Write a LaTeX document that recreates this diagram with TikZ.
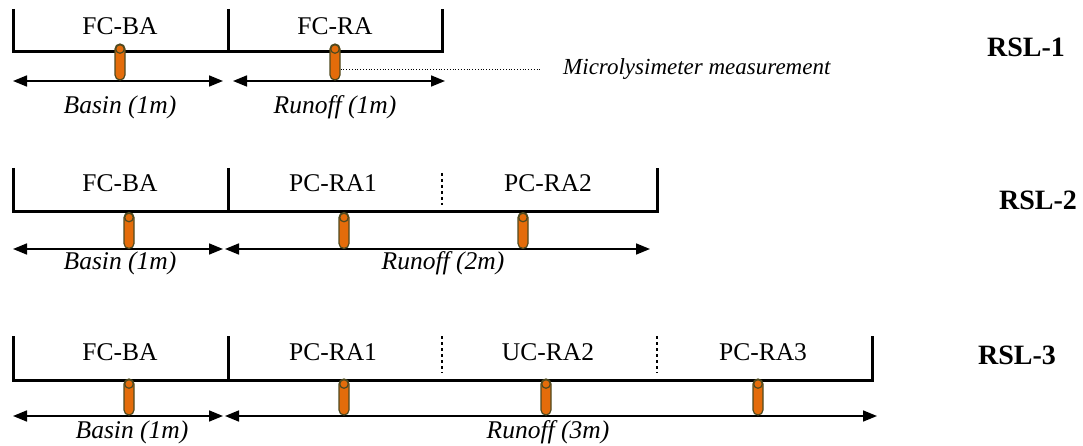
\documentclass[tikz,border=0pt]{standalone}
\usepackage{fontspec}
\setmainfont{Liberation Serif}
\usetikzlibrary{arrows.meta}
\definecolor{tubefill}{HTML}{E46C0A}
\definecolor{tubeedge}{HTML}{4F4A20}

\tikzset{
  wall/.style={line width=3pt, line join=miter},
  divider/.style={line width=1.4pt, dash pattern=on 3pt off 3pt},
  span/.style={line width=1.6pt, {Triangle[length=14pt,width=11pt]}-{Triangle[length=14pt,width=11pt]}},
  zone/.style={font=\fontsize{25.5}{30}\selectfont, inner sep=0pt},
  len/.style={font=\itshape\fontsize{25.5}{30}\selectfont, inner sep=0pt},
  rsl/.style={font=\bfseries\fontsize{28}{33}\selectfont, inner sep=0pt},
  note/.style={font=\itshape\fontsize{23}{27}\selectfont, inner sep=0pt, anchor=west},
  tube/.style={draw=tubeedge, fill=tubefill, line width=1.2pt, rounded corners=5pt,
    minimum width=10pt, minimum height=36pt, inner sep=0pt,
    path picture={\draw[tubeedge, line width=1.2pt]
      ([yshift=-5pt]path picture bounding box.north) circle (4.3pt);}},
  leader/.style={line width=0.8pt, dotted},
}

\begin{document}
\begin{tikzpicture}[x=1pt, y=-1pt]
\useasboundingbox (0,0) rectangle (1083,446);

% ---------------- RSL-1 ----------------
\draw[wall] (13,9) -- (13,52) -- (442,52) -- (442,9);
\draw[wall] (228,9) -- (228,52);
\node[zone] (r1a) at (120,26) {FC-BA};
\node[zone] (r1b) at (335,26) {FC-RA};
\coordinate (r1s0) at (13,81);
\coordinate (r1s1) at (223,81);
\coordinate (r1s2) at (233,81);
\coordinate (r1s3) at (445,81);
\draw[span] (r1s0) -- (r1s1);
\draw[span] (r1s2) -- (r1s3);
\node[tube] (r1t1) at (120,62) {};
\node[tube] (r1t2) at (335,62) {};
\node[len] (r1l1) at (120,107) {Basin (1m)};
\node[len] (r1l2) at (335,107) {Runoff (1m)};
\node[note] (micro) at (563,69) {Microlysimeter measurement};
\coordinate (microend) at (540,69);
\draw[leader] (r1t2.east |- microend) -- (microend);
\node[rsl] (rsl1) at (1026,47) {RSL-1};

% ---------------- RSL-2 ----------------
\draw[wall] (13,168) -- (13,212) -- (657,212) -- (657,168);
\draw[wall] (228,168) -- (228,212);
\draw[divider] (442,173) -- (442,205);
\node[zone] (r2a) at (120,183) {FC-BA};
\node[zone] (r2b) at (333,183) {PC-RA1};
\node[zone] (r2c) at (548,183) {PC-RA2};
\coordinate (r2s0) at (13,249);
\coordinate (r2s1) at (223,249);
\coordinate (r2s2) at (225,249);
\coordinate (r2s3) at (650,249);
\draw[span] (r2s0) -- (r2s1);
\draw[span] (r2s2) -- (r2s3);
\node[tube] (r2t1) at (129,230.5) {};
\node[tube] (r2t2) at (344,230.5) {};
\node[tube] (r2t3) at (523,230.5) {};
\node[len] (r2l1) at (120,263) {Basin (1m)};
\node[len] (r2l2) at (443,263) {Runoff (2m)};
\node[rsl] (rsl2) at (1038,200) {RSL-2};

% ---------------- RSL-3 ----------------
\draw[wall] (13,336) -- (13,380) -- (872,380) -- (872,336);
\draw[wall] (228,336) -- (228,380);
\draw[divider] (442,336) -- (442,373);
\draw[divider] (657,336) -- (657,373);
\node[zone] (r3a) at (120,352) {FC-BA};
\node[zone] (r3b) at (333,352) {PC-RA1};
\node[zone] (r3c) at (548,352) {UC-RA2};
\node[zone] (r3d) at (763,352) {PC-RA3};
\coordinate (r3s0) at (13,416);
\coordinate (r3s1) at (223,416);
\coordinate (r3s2) at (225,416);
\coordinate (r3s3) at (877,416);
\draw[span] (r3s0) -- (r3s1);
\draw[span] (r3s2) -- (r3s3);
\node[tube] (r3t1) at (129,397) {};
\node[tube] (r3t2) at (344,397) {};
\node[tube] (r3t3) at (546,397) {};
\node[tube] (r3t4) at (758,397) {};
\node[len] (r3l1) at (132,432) {Basin (1m)};
\node[len] (r3l2) at (548,432) {Runoff (3m)};
\node[rsl] (rsl3) at (1017,355) {RSL-3};
\end{tikzpicture}
\end{document}
